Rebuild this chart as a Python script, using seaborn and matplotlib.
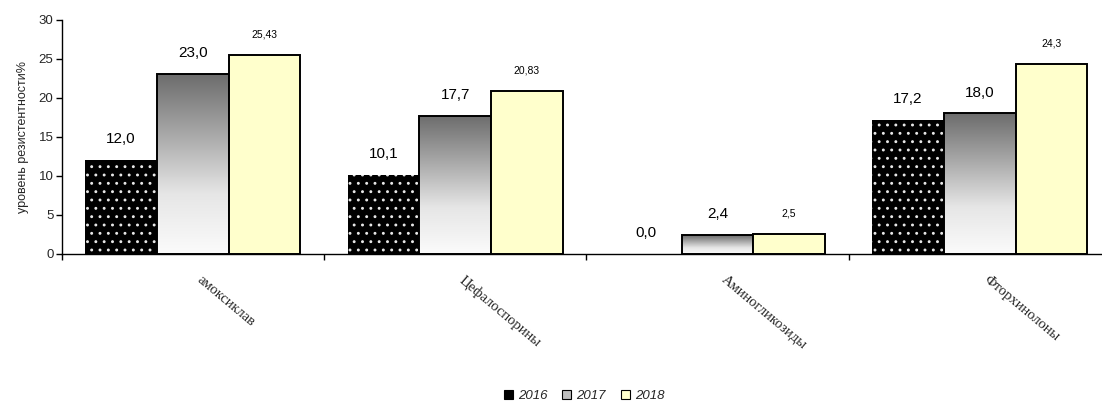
import numpy as np
import pandas as pd
import matplotlib
matplotlib.use("Agg")
import matplotlib.pyplot as plt
from matplotlib.patches import Patch
import seaborn as sns

# Resistance levels by antibiotic group and year
categories = ["амоксиклав", "Цефалоспорины", "Аминогликозиды", "Фторхинолоны"]
years = ["2016", "2017", "2018"]
values_2016 = [12.0, 10.1, 0.0, 17.2]
values_2017 = [23.0, 17.7, 2.4, 18.0]
values_2018 = [25.43, 20.83, 2.5, 24.3]
y_ticks = [0, 5, 10, 15, 20, 25, 30]
y_label = "уровень резистентности%"

sns.set_theme(style="white")
plt.rcParams["font.family"] = ["Liberation Sans", "DejaVu Sans"]
plt.rcParams["hatch.linewidth"] = 0.9

df = pd.DataFrame({
    "category": categories * 3,
    "year": [y for y in years for _ in categories],
    "value": values_2016 + values_2017 + values_2018,
})

fig = plt.figure(figsize=(11.02, 4.03), dpi=100)
ax = fig.add_axes([0.056, 0.370, 0.952, 0.581])

palette = {"2016": "black", "2017": "#b0b0b0", "2018": "#ffffcc"}
sns.barplot(data=df, x="category", y="value", hue="year", order=categories,
            hue_order=years, palette=palette, width=0.82, gap=0,
            saturation=1, legend=False, ax=ax)

c16, c17, c18 = ax.containers

# 2016: black bars with a fine white dot pattern
for p in c16:
    p.set_facecolor("black")
    p.set_edgecolor("#e8e8e8")
    p.set_linewidth(0)
    p.set_hatch("..")

# 2017: vertical gray-to-white gradient inside each bar
grad = np.linspace(1.0, 0.0, 256).reshape(-1, 1)
cmap = matplotlib.colors.LinearSegmentedColormap.from_list(
    "grayfade", ["#fbfbfb", "#e6e6e6", "#a8a8a8", "#6c6c6c"])
for p in c17:
    x0, w, h = p.get_x(), p.get_width(), p.get_height()
    p.set_facecolor("none")
    p.set_edgecolor("black")
    p.set_linewidth(1.4)
    p.set_zorder(3)
    if h > 0:
        im = ax.imshow(grad, extent=[x0, x0 + w, 0, h], aspect="auto",
                       cmap=cmap, vmin=0, vmax=1, zorder=2,
                       interpolation="bilinear")
        im.set_clip_path(p)

# 2018: pale yellow with black outline
for p in c18:
    p.set_facecolor("#ffffcc")
    p.set_edgecolor("black")
    p.set_linewidth(1.4)
    p.set_zorder(3)

def fmt_one(v):
    return f"{v:.1f}".replace(".", ",")

def fmt_raw(v):
    return str(v).replace(".", ",")

ax.bar_label(c16, labels=[fmt_one(v) for v in values_2016], padding=10,
             fontsize=11, color="black")
ax.bar_label(c17, labels=[fmt_one(v) for v in values_2017], padding=10,
             fontsize=11, color="black")
ax.bar_label(c18, labels=[fmt_raw(v) for v in values_2018], padding=11.5,
             fontsize=7.5, color="black")

ax.set_xlim(-0.5, len(categories) - 0.5)
ax.set_ylim(0, 30)
ax.set_yticks(y_ticks)
ax.set_yticklabels([str(t) for t in y_ticks], fontsize=9.5)
ax.set_ylabel(y_label, fontsize=9, labelpad=7)
ax.set_xlabel("")

# category separators as small ticks below the axis
ax.set_xticks(np.arange(len(categories)))
ax.set_xticklabels([])
ax.tick_params(axis="x", which="major", length=0)
ax.set_xticks(np.arange(len(categories) + 1) - 0.5, minor=True)
ax.tick_params(axis="x", which="minor", length=4, width=1, color="black",
               direction="out", bottom=True)
ax.tick_params(axis="y", length=4, width=1, color="black", direction="out",
               left=True, pad=2)

for i, name in enumerate(categories):
    ax.annotate(name, xy=(i, 0), xycoords=("data", "data"),
                xytext=(7, -14), textcoords="offset points",
                rotation=-40, rotation_mode="anchor", ha="left", va="top",
                fontsize=10.5, family=["Liberation Serif", "DejaVu Serif"],
                annotation_clip=False)

for side in ["top", "right"]:
    ax.spines[side].set_visible(False)
for side in ["left", "bottom"]:
    ax.spines[side].set_color("black")
    ax.spines[side].set_linewidth(1.0)

handles = [
    Patch(facecolor="black", edgecolor="black", linewidth=0.8),
    Patch(facecolor="#bdbdbd", edgecolor="black", linewidth=0.8),
    Patch(facecolor="#ffffcc", edgecolor="black", linewidth=0.8),
]
fig.legend(handles, years, loc="center", bbox_to_anchor=(0.53, 0.018),
           ncol=3, frameon=False, handlelength=0.7, handleheight=0.7,
           handletextpad=0.4, columnspacing=1.1,
           prop={"size": 9.5, "style": "italic"})

fig.savefig("out.png", dpi=100)
